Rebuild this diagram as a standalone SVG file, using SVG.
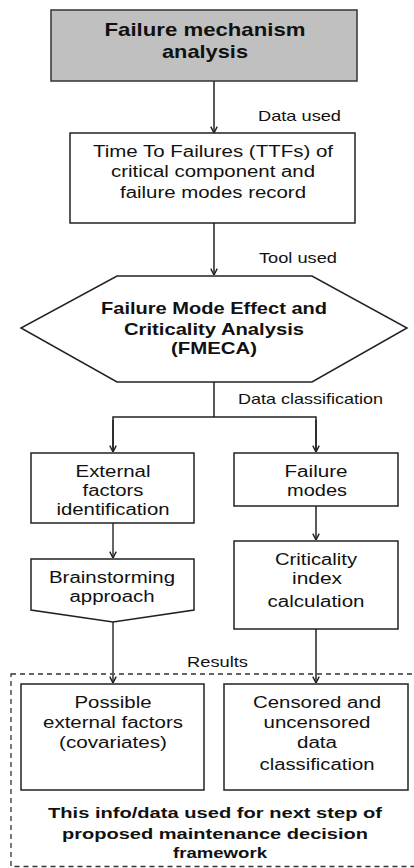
<svg xmlns="http://www.w3.org/2000/svg" width="414" height="868" viewBox="0 0 414 868">
<defs>
<marker id="ah" viewBox="0 0 10 10" refX="10" refY="5" markerWidth="8" markerHeight="8" markerUnits="userSpaceOnUse" orient="auto">
<path d="M2,1 L10,5 L2,9" fill="none" stroke="#222" stroke-width="1.8"/>
</marker>
<style>
.box{fill:#fff;stroke:#222;stroke-width:1.5}
.gray{fill:#c0c0c0;stroke:#333;stroke-width:1.5}
.t{font-family:"Liberation Sans",Arial,sans-serif;font-size:16px;fill:#111;text-anchor:middle}
.b{font-weight:bold;font-size:17px}
.f{font-size:15.5px}
.lbl{font-family:"Liberation Sans",Arial,sans-serif;font-size:14.5px;fill:#111}
.c{fill:none;stroke:#222;stroke-width:1.5}
.cg{fill:none;stroke:#555;stroke-width:1.8}
</style>
</defs>
<rect id="frame" x="0" y="0" width="414" height="868" fill="#fff"/>
<g id="results-area">
<rect x="11" y="674" width="412" height="192.5" fill="none" stroke="#333" stroke-width="1.3" stroke-dasharray="5,4"/>
<text class="t b f" x="215" y="818" textLength="334" lengthAdjust="spacingAndGlyphs">This info/data used for next step of</text>
<text class="t b f" x="215" y="839" textLength="306" lengthAdjust="spacingAndGlyphs">proposed maintenance decision</text>
<text class="t b f" x="220" y="858" textLength="94" lengthAdjust="spacingAndGlyphs">framework</text>
</g>
<g id="connectors">
<line class="c" x1="214" y1="81" x2="214" y2="133" marker-end="url(#ah)"/>
<line class="c" x1="214" y1="223" x2="214" y2="275" marker-end="url(#ah)"/>
<polyline class="c" points="214,382 214,417"/>
<polyline class="c" points="113,452 113,417 316,417 316,452"/>
<line class="c" x1="113" y1="420" x2="113" y2="452" marker-end="url(#ah)"/>
<line class="c" x1="316" y1="420" x2="316" y2="452" marker-end="url(#ah)"/>
<line class="cg" x1="113" y1="523" x2="113" y2="558" marker-end="url(#ah)"/>
<line class="c" x1="316" y1="506" x2="316" y2="540" marker-end="url(#ah)"/>
<line class="cg" x1="113" y1="622" x2="113" y2="683" marker-end="url(#ah)"/>
<line class="c" x1="316" y1="629" x2="316" y2="683" marker-end="url(#ah)"/>
<text class="lbl" x="258" y="121" textLength="83" lengthAdjust="spacingAndGlyphs">Data used</text>
<text class="lbl" x="259" y="263" textLength="78" lengthAdjust="spacingAndGlyphs">Tool used</text>
<text class="lbl" x="238" y="404" textLength="145" lengthAdjust="spacingAndGlyphs">Data classification</text>
<text class="lbl" x="187" y="667" textLength="61" lengthAdjust="spacingAndGlyphs">Results</text>
</g>
<g id="n-mechanism">
<rect class="gray" x="51" y="10" width="306" height="71"/>
<text class="t b" x="205" y="36" style="font-size:18.5px" textLength="201" lengthAdjust="spacingAndGlyphs">Failure mechanism</text>
<text class="t b" x="205" y="58" style="font-size:18.5px" textLength="86" lengthAdjust="spacingAndGlyphs">analysis</text>
</g>
<g id="n-ttf">
<rect class="box" x="70" y="133" width="285" height="90"/>
<text class="t" x="213" y="157" textLength="240" lengthAdjust="spacingAndGlyphs">Time To Failures (TTFs) of</text>
<text class="t" x="213" y="177" textLength="204" lengthAdjust="spacingAndGlyphs">critical component and</text>
<text class="t" x="213" y="198" textLength="186" lengthAdjust="spacingAndGlyphs">failure modes record</text>
</g>
<g id="n-fmeca">
<polygon class="box" points="117,276 312,276 407,328 312,382 117,382 21,328"/>
<text class="t b" x="214" y="314" textLength="226" lengthAdjust="spacingAndGlyphs">Failure Mode Effect and</text>
<text class="t b" x="214" y="335" textLength="180" lengthAdjust="spacingAndGlyphs">Criticality Analysis</text>
<text class="t b" x="214" y="354" textLength="86" lengthAdjust="spacingAndGlyphs">(FMECA)</text>
</g>
<g id="n-external">
<rect class="box" x="31" y="453" width="163" height="70"/>
<text class="t" x="113" y="477" textLength="75" lengthAdjust="spacingAndGlyphs">External</text>
<text class="t" x="113" y="496" textLength="61" lengthAdjust="spacingAndGlyphs">factors</text>
<text class="t" x="113" y="515" textLength="113" lengthAdjust="spacingAndGlyphs">identification</text>
</g>
<g id="n-failuremodes">
<rect class="box" x="234" y="453" width="164" height="53"/>
<text class="t" x="316" y="477" textLength="63" lengthAdjust="spacingAndGlyphs">Failure</text>
<text class="t" x="317" y="496" textLength="60" lengthAdjust="spacingAndGlyphs">modes</text>
</g>
<g id="n-brainstorming">
<polygon class="box" points="31,559 194,559 194,610 113,622 31,610"/>
<text class="t" x="112" y="583" textLength="126" lengthAdjust="spacingAndGlyphs">Brainstorming</text>
<text class="t" x="112" y="602" textLength="85" lengthAdjust="spacingAndGlyphs">approach</text>
</g>
<g id="n-criticality">
<rect class="box" x="234" y="541" width="164" height="88"/>
<text class="t" x="316" y="565" textLength="82" lengthAdjust="spacingAndGlyphs">Criticality</text>
<text class="t" x="317" y="584" textLength="50" lengthAdjust="spacingAndGlyphs">index</text>
<text class="t" x="316" y="607" textLength="97" lengthAdjust="spacingAndGlyphs">calculation</text>
</g>
<g id="n-possible">
<rect class="box" x="21" y="684" width="183" height="106"/>
<text class="t" x="113" y="708" textLength="77" lengthAdjust="spacingAndGlyphs">Possible</text>
<text class="t" x="113" y="728" textLength="140" lengthAdjust="spacingAndGlyphs">external factors</text>
<text class="t" x="113" y="748" textLength="108" lengthAdjust="spacingAndGlyphs">(covariates)</text>
</g>
<g id="n-censored">
<rect class="box" x="224" y="684" width="184" height="106"/>
<text class="t" x="317" y="708" textLength="128" lengthAdjust="spacingAndGlyphs">Censored and</text>
<text class="t" x="317" y="728" textLength="107" lengthAdjust="spacingAndGlyphs">uncensored</text>
<text class="t" x="317" y="748" textLength="40" lengthAdjust="spacingAndGlyphs">data</text>
<text class="t" x="317" y="770" textLength="115" lengthAdjust="spacingAndGlyphs">classification</text>
</g>
</svg>
